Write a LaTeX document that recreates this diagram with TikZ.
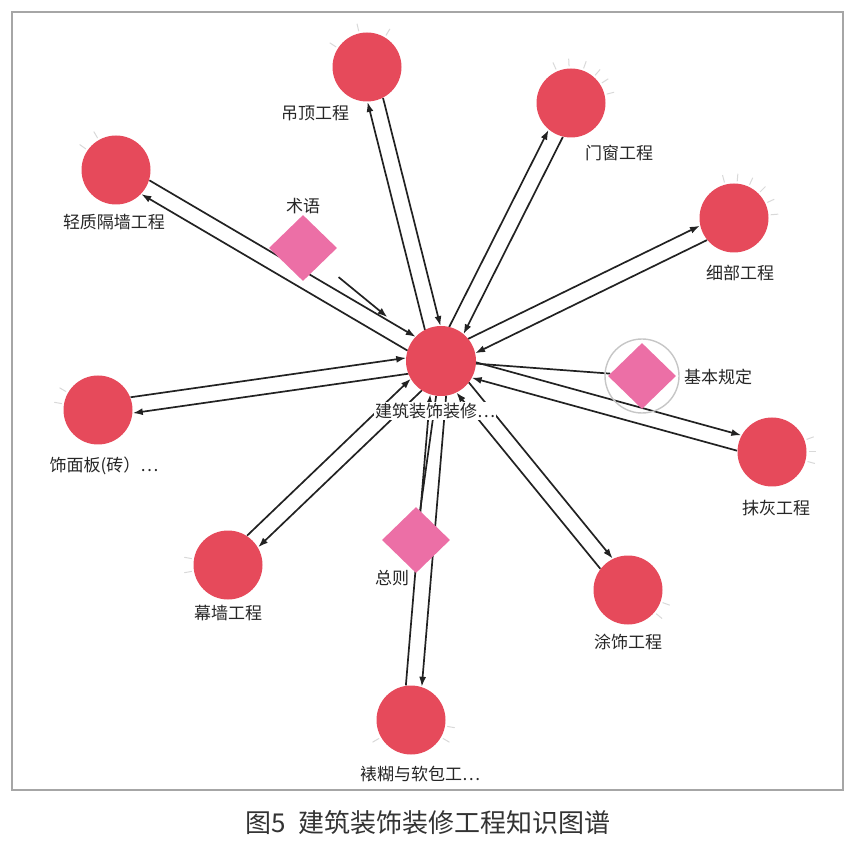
\documentclass[tikz,border=0pt]{standalone}
\usepackage{fontspec}
\setmainfont{Noto Sans CJK SC}
\usetikzlibrary{arrows.meta,calc,shapes.geometric,backgrounds}
\definecolor{kgred}{HTML}{E64A5B}
\definecolor{kgpink}{HTML}{EC6FA6}
\definecolor{kgline}{HTML}{222222}
\tikzset{%
  % classes
  entity/.style={circle, fill=kgred, minimum size=69pt, inner sep=0pt},
  concept/.style={diamond, fill=kgpink, minimum width=68pt, minimum height=66pt, inner sep=0pt},
  lbl/.style={fill=white, inner sep=1pt, font=\fontsize{17}{20}\selectfont, text=black!85},
  % edge styles
  rel/.style={-{Latex[length=10pt,width=7pt]}, line width=1.7pt, draw=kgline, shorten <=34pt, shorten >=34pt},
  link/.style={line width=1.7pt, draw=kgline},
  whisker/.style={draw=gray!30, line width=1pt},
  frame/.style={draw=gray!70, line width=1.2pt},
}
\newcommand{\laneoff}{8pt}
\newcommand{\lane}[2]{%
  % #1 = from node
  % #2 = to node
  \draw[rel] ($(#1)!\laneoff!90:(#2)$) -- ($(#2)!\laneoff!-90:(#1)$);
}
\newcommand{\whiskers}[2]{%
  % #1 = node
  % #2 = list of angles
  \foreach \a in {#2}
    \draw[whisker] ($(#1)!1.06!(#1.\a)$) -- ($(#1)!1.28!(#1.\a)$);
}

\begin{document}
\begin{tikzpicture}[x=1pt, y=-1pt]
  \useasboundingbox (0,0) rectangle (855,850);

  % Hub
  \node[entity, minimum size=70pt] (hub) at (441,361) {};

  % Sub-projects
  \node[entity] (ceil) at (367,67) {};
  \node[entity] (win) at (571,103) {};
  \node[entity] (wall) at (116,170) {};
  \node[entity] (detail) at (734,218) {};
  \node[entity] (facing) at (98,410) {};
  \node[entity] (plaster) at (772,452) {};
  \node[entity] (curtain) at (228,565) {};
  \node[entity] (paint) at (628,590) {};
  \node[entity] (paper) at (411,720) {};

  % Chapters
  \node[concept] (term) at (303,248) {};
  \node[concept] (basic) at (642,376) {};
  \node[concept] (general) at (416,540) {};

  % Labels
  \node[lbl] (l_hub) at (435,411) {建筑装饰装修⋯};
  \node[lbl] (l_ceil) at (315,113) {吊顶工程};
  \node[lbl] (l_win) at (619,153) {门窗工程};
  \node[lbl] (l_wall) at (114,222) {轻质隔墙工程};
  \node[lbl] (l_detail) at (740,273) {细部工程};
  \node[lbl] (l_facing) at (104,466) {饰面板(砖）⋯};
  \node[lbl] (l_plaster) at (776,508) {抹灰工程};
  \node[lbl] (l_curtain) at (228,613) {幕墙工程};
  \node[lbl] (l_paint) at (628,642) {涂饰工程};
  \node[lbl] (l_paper) at (420,774) {裱糊与软包工⋯};
  \node[lbl] (l_term) at (303,206) {术语};
  \node[lbl] (l_basic) at (718,377) {基本规定};
  \node[lbl] (l_general) at (392,578) {总则};

  % Caption
  \node[font=\fontsize{26}{31}\selectfont, text=black!80] (cap) at (428,823) {图5\hspace{0.5em}建筑装饰装修工程知识图谱};

  \begin{pgfonlayer}{background}
    \draw[frame] (12,12) rectangle (843,790);

    % Hub <-> sub-projects
    \foreach \n in {ceil,win,wall,detail,facing,plaster,curtain,paint,paper}{
      \lane{hub}{\n}
      \lane{\n}{hub}
    }

    % Chapters
    \draw[rel, shorten <=22pt] (term) -- (hub);
    \draw[link] (hub) -- (basic);
    \draw[link] (hub) -- (general);
    \draw[draw=gray!45, line width=1.4pt] (basic) circle (37pt);

    % Whiskers
    \whiskers{ceil}{103,59,147}
    \whiskers{win}{114,93,70,49,33,14}
    \whiskers{wall}{120,145}
    \whiskers{detail}{105,85,65,45,25,5}
    \whiskers{facing}{150,170}
    \whiskers{plaster}{20,0,-15}
    \whiskers{curtain}{170,190}
    \whiskers{paint}{-20,-40}
    \whiskers{paper}{-10,-150,-30}
  \end{pgfonlayer}
\end{tikzpicture}
\end{document}
